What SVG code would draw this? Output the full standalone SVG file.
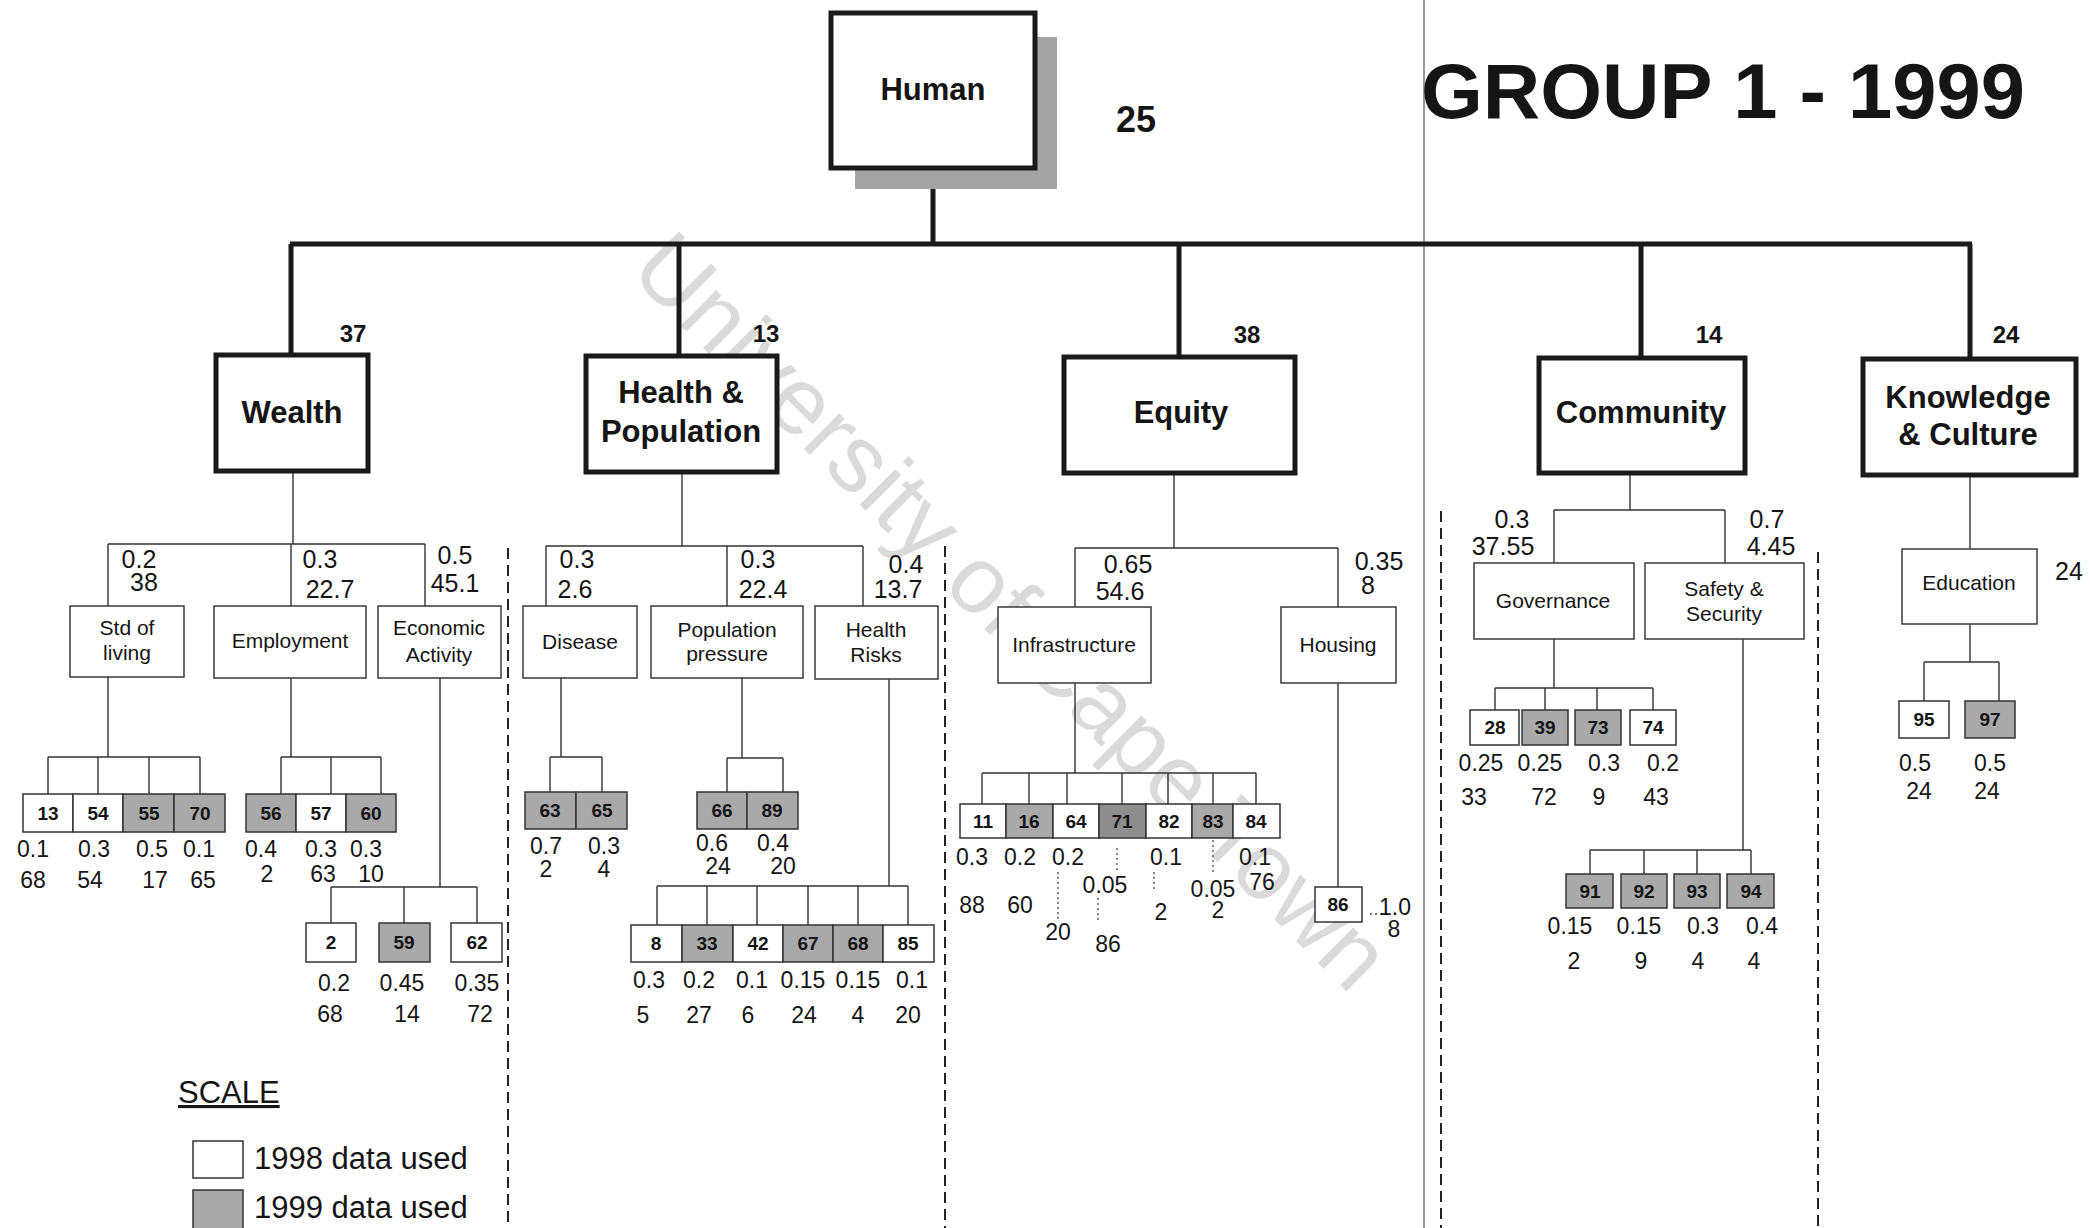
<svg xmlns="http://www.w3.org/2000/svg" width="2090" height="1228" viewBox="0 0 2090 1228">
<style>
text{font-family:"Liberation Sans",Arial,sans-serif;fill:#151515}
.wm{font-size:95px;fill:#dadada;text-anchor:middle}
.top{fill:#fff;stroke:#1a1a1a;stroke-width:5}
.tt{font-size:31px;font-weight:bold;text-anchor:middle}
.tw{font-size:24px;font-weight:bold;text-anchor:middle}
.sub{fill:#fff;stroke:#3a3a3a;stroke-width:1.5}
.st{font-size:21px;text-anchor:middle}
.l2{font-size:25px;text-anchor:middle}
.l3{font-size:23px;text-anchor:middle}
.w{fill:#fff;stroke:#333;stroke-width:1.5}
.g{fill:#a9a9a9;stroke:#333;stroke-width:1.5}
.gd{fill:#8e8e8e;stroke:#333;stroke-width:1.5}
.bn{font-size:19px;font-weight:bold;text-anchor:middle}
.thick{stroke:#1a1a1a;stroke-width:5;fill:none}
.thin{stroke:#333;stroke-width:1.4;fill:none}
.dash{stroke:#222;stroke-width:2;stroke-dasharray:11 6;fill:none}
.dot{stroke:#444;stroke-width:1.3;stroke-dasharray:2 3;fill:none}
</style>

<text class="wm" transform="rotate(45 989 634)" x="989" y="634">University of Cape Town</text>

<g id="frame">
<line x1="1424" y1="0" x2="1424" y2="1228" stroke="#555" stroke-width="1.2"/>
<line class="dash" x1="508" y1="548" x2="508" y2="1228"/>
<line class="dash" x1="945" y1="546" x2="945" y2="1228"/>
<line class="dash" x1="1441" y1="511" x2="1441" y2="1228"/>
<line class="dash" x1="1818" y1="552" x2="1818" y2="1228"/>
</g>

<text x="1421" y="118" font-size="78" font-weight="bold" textLength="604" lengthAdjust="spacingAndGlyphs">GROUP 1 - 1999</text>

<g id="connectors">
<!-- top level -->
<path class="thick" d="M933 168V244M290 244H1972M291 244V355M679 244V356M1179 244V357M1641 244V358M1970 244V359"/>
<!-- wealth -->
<path class="thin" d="M293 471V544M108 544H425M108 544V606M291 544V606M425 544V606"/>
<path class="thin" d="M108 677V757M48 757H200M48 757V794M98 757V794M149 757V794M200 757V794"/>
<path class="thin" d="M291 678V757M281 757H381M281 757V794M331 757V794M381 757V794"/>
<path class="thin" d="M440 678V887M331 887H477M331 887V923M404 887V923M477 887V923"/>
<!-- health -->
<path class="thin" d="M682 472V546M546 546H863M546 546V606M727 546V606M863 546V606"/>
<path class="thin" d="M561 678V757M550 757H602M550 757V792M602 757V792"/>
<path class="thin" d="M742 678V758M727 758H783M727 758V792M783 758V792"/>
<path class="thin" d="M889 679V886M657 886H908M657 886V925M707 886V925M757 886V925M808 886V925M858 886V925M908 886V925"/>
<!-- equity -->
<path class="thin" d="M1174 473V548M1075 548H1338M1075 548V607M1338 548V607"/>
<path class="thin" d="M1075 683V773M982 773H1256M982 773V804M1029 773V804M1067 773V804M1122 773V804M1168 773V804M1213 773V804M1256 773V804"/>
<path class="thin" d="M1338 683V887"/>
<path class="dot" d="M1058 872V920M1117 848V872M1098 898V922M1154 872V892M1213 840V873M1370 914H1384"/>
<!-- community -->
<path class="thin" d="M1630 473V510M1554 510H1725M1554 510V563M1725 510V563"/>
<path class="thin" d="M1554 639V688M1495 688H1653M1495 688V710M1545 688V710M1597 688V710M1653 688V710"/>
<path class="thin" d="M1743 639V850M1590 850H1751M1590 850V874M1644 850V874M1697 850V874M1751 850V874"/>
<!-- knowledge -->
<path class="thin" d="M1970 475V549M1970 624V662M1924 662H1999M1924 662V701M1999 662V701"/>
</g>

<g id="human">
<rect x="855" y="37" width="202" height="152" fill="#a4a4a4"/>
<rect class="top" x="831" y="13" width="204" height="155"/>
<text class="tt" x="933" y="100" font-size="30">Human</text>
<text x="1136" y="132" font-size="36" font-weight="bold" text-anchor="middle">25</text>
</g>

<g id="wealth">
<rect class="top" x="216" y="355" width="152" height="116"/>
<text class="tt" x="292" y="423">Wealth</text>
<text class="tw" x="353" y="342">37</text>
</g>
<g id="health">
<rect class="top" x="586" y="356" width="191" height="116"/>
<text class="tt" x="681" y="403">Health &amp;</text>
<text class="tt" x="681" y="442">Population</text>
<text class="tw" x="766" y="342">13</text>
</g>
<g id="equity">
<rect class="top" x="1064" y="357" width="231" height="116"/>
<text class="tt" x="1181" y="423">Equity</text>
<text class="tw" x="1247" y="343">38</text>
</g>
<g id="community">
<rect class="top" x="1539" y="358" width="206" height="115"/>
<text class="tt" x="1641" y="423">Community</text>
<text class="tw" x="1709" y="343">14</text>
</g>
<g id="knowledge">
<rect class="top" x="1863" y="359" width="213" height="116"/>
<text class="tt" x="1968" y="408">Knowledge</text>
<text class="tt" x="1968" y="445">&amp; Culture</text>
<text class="tw" x="2006" y="343">24</text>
</g>

<!-- Wealth subtree -->
<g id="std">
<rect class="sub" x="70" y="606" width="114" height="71"/>
<text class="st" x="127" y="635">Std of</text><text class="st" x="127" y="660">living</text>
<text class="l2" x="139" y="568">0.2</text><text class="l2" x="144" y="591">38</text>
</g>
<g id="employment">
<rect class="sub" x="214" y="606" width="152" height="72"/>
<text class="st" x="290" y="648">Employment</text>
<text class="l2" x="320" y="568">0.3</text><text class="l2" x="330" y="598">22.7</text>
</g>
<g id="econ">
<rect class="sub" x="378" y="606" width="123" height="72"/>
<text class="st" x="439" y="635">Economic</text><text class="st" x="439" y="662">Activity</text>
<text class="l2" x="455" y="564">0.5</text><text class="l2" x="455" y="592">45.1</text>
</g>
<g id="std-ind">
<rect class="w" x="23" y="794" width="50" height="38"/><text class="bn" x="48" y="820">13</text>
<rect class="w" x="73" y="794" width="50" height="38"/><text class="bn" x="98" y="820">54</text>
<rect class="g" x="123" y="794" width="51" height="38"/><text class="bn" x="149" y="820">55</text>
<rect class="g" x="174" y="794" width="51" height="38"/><text class="bn" x="200" y="820">70</text>
<text class="l3" x="33" y="857">0.1</text><text class="l3" x="94" y="857">0.3</text><text class="l3" x="152" y="857">0.5</text><text class="l3" x="199" y="857">0.1</text>
<text class="l3" x="33" y="888">68</text><text class="l3" x="90" y="888">54</text><text class="l3" x="155" y="888">17</text><text class="l3" x="203" y="888">65</text>
</g>
<g id="emp-ind">
<rect class="g" x="246" y="794" width="50" height="38"/><text class="bn" x="271" y="820">56</text>
<rect class="w" x="296" y="794" width="50" height="38"/><text class="bn" x="321" y="820">57</text>
<rect class="g" x="346" y="794" width="50" height="38"/><text class="bn" x="371" y="820">60</text>
<text class="l3" x="261" y="857">0.4</text><text class="l3" x="321" y="857">0.3</text><text class="l3" x="366" y="857">0.3</text>
<text class="l3" x="267" y="882">2</text><text class="l3" x="323" y="882">63</text><text class="l3" x="371" y="882">10</text>
</g>
<g id="econ-ind">
<rect class="w" x="306" y="923" width="50" height="39"/><text class="bn" x="331" y="949">2</text>
<rect class="g" x="379" y="923" width="51" height="39"/><text class="bn" x="404" y="949">59</text>
<rect class="w" x="451" y="923" width="51" height="39"/><text class="bn" x="477" y="949">62</text>
<text class="l3" x="334" y="991">0.2</text><text class="l3" x="402" y="991">0.45</text><text class="l3" x="477" y="991">0.35</text>
<text class="l3" x="330" y="1022">68</text><text class="l3" x="407" y="1022">14</text><text class="l3" x="480" y="1022">72</text>
</g>

<!-- Health subtree -->
<g id="disease">
<rect class="sub" x="523" y="606" width="114" height="72"/>
<text class="st" x="580" y="649">Disease</text>
<text class="l2" x="577" y="568">0.3</text><text class="l2" x="575" y="598">2.6</text>
</g>
<g id="poppressure">
<rect class="sub" x="651" y="606" width="152" height="72"/>
<text class="st" x="727" y="637">Population</text><text class="st" x="727" y="661">pressure</text>
<text class="l2" x="758" y="568">0.3</text><text class="l2" x="763" y="598">22.4</text>
</g>
<g id="healthrisks">
<rect class="sub" x="815" y="606" width="123" height="73"/>
<text class="st" x="876" y="637">Health</text><text class="st" x="876" y="662">Risks</text>
<text class="l2" x="906" y="573">0.4</text><text class="l2" x="898" y="598">13.7</text>
</g>
<g id="disease-ind">
<rect class="g" x="525" y="792" width="51" height="37"/><text class="bn" x="550" y="817">63</text>
<rect class="g" x="576" y="792" width="51" height="37"/><text class="bn" x="602" y="817">65</text>
<text class="l3" x="546" y="854">0.7</text><text class="l3" x="604" y="854">0.3</text>
<text class="l3" x="546" y="877">2</text><text class="l3" x="604" y="877">4</text>
</g>
<g id="pop-ind">
<rect class="g" x="697" y="792" width="50" height="37"/><text class="bn" x="722" y="817">66</text>
<rect class="g" x="747" y="792" width="51" height="37"/><text class="bn" x="772" y="817">89</text>
<text class="l3" x="712" y="851">0.6</text><text class="l3" x="773" y="851">0.4</text>
<text class="l3" x="718" y="874">24</text><text class="l3" x="783" y="874">20</text>
</g>
<g id="risk-ind">
<rect class="w" x="631" y="925" width="51" height="37"/><text class="bn" x="656" y="950">8</text>
<rect class="g" x="682" y="925" width="51" height="37"/><text class="bn" x="707" y="950">33</text>
<rect class="w" x="733" y="925" width="50" height="37"/><text class="bn" x="758" y="950">42</text>
<rect class="g" x="783" y="925" width="50" height="37"/><text class="bn" x="808" y="950">67</text>
<rect class="g" x="833" y="925" width="50" height="37"/><text class="bn" x="858" y="950">68</text>
<rect class="w" x="883" y="925" width="51" height="37"/><text class="bn" x="908" y="950">85</text>
<text class="l3" x="649" y="988">0.3</text><text class="l3" x="699" y="988">0.2</text><text class="l3" x="752" y="988">0.1</text><text class="l3" x="803" y="988">0.15</text><text class="l3" x="858" y="988">0.15</text><text class="l3" x="912" y="988">0.1</text>
<text class="l3" x="643" y="1023">5</text><text class="l3" x="699" y="1023">27</text><text class="l3" x="748" y="1023">6</text><text class="l3" x="804" y="1023">24</text><text class="l3" x="858" y="1023">4</text><text class="l3" x="908" y="1023">20</text>
</g>

<!-- Equity subtree -->
<g id="infrastructure">
<rect class="sub" x="998" y="607" width="153" height="76"/>
<text class="st" x="1074" y="652">Infrastructure</text>
<text class="l2" x="1128" y="573">0.65</text><text class="l2" x="1120" y="600">54.6</text>
</g>
<g id="housing">
<rect class="sub" x="1281" y="607" width="115" height="76"/>
<text class="st" x="1338" y="652">Housing</text>
<text class="l2" x="1379" y="570">0.35</text><text class="l2" x="1368" y="594">8</text>
</g>
<g id="infra-ind">
<rect class="w" x="960" y="804" width="46" height="34"/><text class="bn" x="983" y="828">11</text>
<rect class="g" x="1006" y="804" width="47" height="34"/><text class="bn" x="1029" y="828">16</text>
<rect class="w" x="1053" y="804" width="46" height="34"/><text class="bn" x="1076" y="828">64</text>
<rect class="gd" x="1099" y="804" width="47" height="34"/><text class="bn" x="1122" y="828">71</text>
<rect class="w" x="1146" y="804" width="46" height="34"/><text class="bn" x="1169" y="828">82</text>
<rect class="g" x="1192" y="804" width="41" height="34"/><text class="bn" x="1213" y="828">83</text>
<rect class="w" x="1233" y="804" width="47" height="34"/><text class="bn" x="1256" y="828">84</text>
<text class="l3" x="972" y="865">0.3</text><text class="l3" x="1020" y="865">0.2</text><text class="l3" x="1068" y="865">0.2</text><text class="l3" x="1166" y="865">0.1</text><text class="l3" x="1255" y="865">0.1</text>
<text class="l3" x="1105" y="893">0.05</text><text class="l3" x="1213" y="897">0.05</text><text class="l3" x="1262" y="890">76</text>
<text class="l3" x="972" y="913">88</text><text class="l3" x="1020" y="913">60</text><text class="l3" x="1058" y="940">20</text><text class="l3" x="1108" y="952">86</text><text class="l3" x="1161" y="920">2</text><text class="l3" x="1218" y="918">2</text>
</g>
<g id="housing-ind">
<rect class="w" x="1315" y="887" width="47" height="35"/><text class="bn" x="1338" y="911">86</text>
<text class="l3" x="1395" y="915">1.0</text><text class="l3" x="1394" y="937">8</text>
</g>

<!-- Community subtree -->
<g id="governance">
<rect class="sub" x="1474" y="563" width="160" height="76"/>
<text class="st" x="1553" y="608">Governance</text>
<text class="l2" x="1512" y="528">0.3</text><text class="l2" x="1503" y="555">37.55</text>
</g>
<g id="safety">
<rect class="sub" x="1645" y="563" width="159" height="76"/>
<text class="st" x="1724" y="596">Safety &amp;</text><text class="st" x="1724" y="621">Security</text>
<text class="l2" x="1767" y="528">0.7</text><text class="l2" x="1771" y="555">4.45</text>
</g>
<g id="gov-ind">
<rect class="w" x="1470" y="710" width="49" height="35"/><text class="bn" x="1495" y="734">28</text>
<rect class="g" x="1522" y="710" width="46" height="35"/><text class="bn" x="1545" y="734">39</text>
<rect class="g" x="1575" y="710" width="46" height="35"/><text class="bn" x="1598" y="734">73</text>
<rect class="w" x="1630" y="710" width="46" height="35"/><text class="bn" x="1653" y="734">74</text>
<text class="l3" x="1481" y="771">0.25</text><text class="l3" x="1540" y="771">0.25</text><text class="l3" x="1604" y="771">0.3</text><text class="l3" x="1663" y="771">0.2</text>
<text class="l3" x="1474" y="805">33</text><text class="l3" x="1544" y="805">72</text><text class="l3" x="1599" y="805">9</text><text class="l3" x="1656" y="805">43</text>
</g>
<g id="safety-ind">
<rect class="g" x="1566" y="874" width="47" height="34"/><text class="bn" x="1590" y="898">91</text>
<rect class="g" x="1621" y="874" width="46" height="34"/><text class="bn" x="1644" y="898">92</text>
<rect class="g" x="1674" y="874" width="46" height="34"/><text class="bn" x="1697" y="898">93</text>
<rect class="g" x="1727" y="874" width="47" height="34"/><text class="bn" x="1751" y="898">94</text>
<text class="l3" x="1570" y="934">0.15</text><text class="l3" x="1639" y="934">0.15</text><text class="l3" x="1703" y="934">0.3</text><text class="l3" x="1762" y="934">0.4</text>
<text class="l3" x="1574" y="969">2</text><text class="l3" x="1641" y="969">9</text><text class="l3" x="1698" y="969">4</text><text class="l3" x="1754" y="969">4</text>
</g>

<!-- Knowledge subtree -->
<g id="education">
<rect class="sub" x="1902" y="549" width="135" height="75"/>
<text class="st" x="1969" y="590">Education</text>
<text class="l2" x="2069" y="580">24</text>
</g>
<g id="edu-ind">
<rect class="w" x="1899" y="701" width="50" height="37"/><text class="bn" x="1924" y="726">95</text>
<rect class="g" x="1965" y="701" width="50" height="37"/><text class="bn" x="1990" y="726">97</text>
<text class="l3" x="1915" y="771">0.5</text><text class="l3" x="1990" y="771">0.5</text>
<text class="l3" x="1919" y="799">24</text><text class="l3" x="1987" y="799">24</text>
</g>

<g id="legend">
<text x="178" y="1103" font-size="31" text-decoration="underline">SCALE</text>
<rect class="w" x="193" y="1141" width="50" height="37"/>
<text x="254" y="1169" font-size="31">1998 data used</text>
<rect class="g" x="193" y="1190" width="50" height="40"/>
<text x="254" y="1218" font-size="31">1999 data used</text>
</g>
</svg>
